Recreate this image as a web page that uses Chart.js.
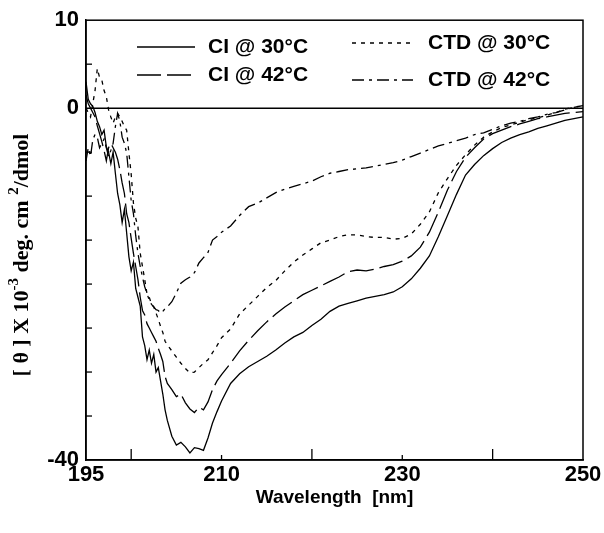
<!DOCTYPE html>
<html><head><meta charset="utf-8">
<script src="https://cdn.jsdelivr.net/npm/chart.js@4/dist/chart.umd.min.js"></script>
<style>html,body{margin:0;padding:0;background:#fff;}#wrap{width:604px;height:533px;}</style>
</head><body><div id="wrap"><canvas id="c" width="604" height="533"></canvas></div>
<script>
const wavelength = [195,195.25,195.5,195.75,196,196.25,196.5,196.75,197,197.25,197.5,197.75,198,198.25,198.5,198.75,199,199.25,199.5,199.75,200,200.25,200.5,200.75,201,201.25,201.5,201.75,202,202.25,202.5,202.75,203,203.25,203.5,203.75,204,
204.5,205,205.5,206,206.5,207,207.5,208,208.5,209,209.5,210,
211,212,213,214,215,216,217,218,219,220,221,222,223,224,225,226,227,228,229,230,231,232,233,234,235,236,237,238,239,240,241,242,243,244,245,246,247,248,249,250];

const ci30 = [3.0,1.0,0.5,0.2,-0.5,-1.5,-2.1,-3.0,-2.5,-4.4,-5.0,-6.3,-5.0,-7.4,-9.7,-11.0,-13.0,-11.5,-14.2,-16.9,-18.5,-17.5,-20.5,-21.5,-22.5,-26.0,-27.0,-28.6,-27.5,-29.0,-28.0,-30.0,-29.5,-31.0,-32.5,-34.3,-35.5,
-37.3,-38.3,-38.0,-38.5,-39.2,-38.6,-38.7,-38.9,-37.5,-35.8,-34.5,-33.3,
-31.3,-30.2,-29.4,-28.8,-28.2,-27.5,-26.7,-26.0,-25.5,-24.7,-24.0,-23.1,-22.5,-22.2,-21.9,-21.6,-21.4,-21.2,-20.9,-20.3,-19.4,-18.2,-16.8,-14.6,-12.2,-9.8,-7.6,-6.4,-5.4,-4.6,-3.9,-3.4,-3.0,-2.7,-2.3,-2.0,-1.7,-1.4,-1.2,-1.0];

const ci42 = [1.5,0.5,0.0,-0.5,-1.0,-2.0,-2.9,-3.8,-4.8,-6.0,-4.5,-4.0,-4.5,-5.0,-5.8,-7.0,-8.5,-9.7,-12.0,-13.0,-14.8,-16.5,-18.0,-19.5,-21.5,-23.0,-23.5,-24.5,-25.0,-25.5,-26.0,-26.5,-27.3,-28.0,-28.8,-30.5,-31.3,
-32.0,-32.8,-32.5,-33.5,-34.2,-34.6,-34.0,-34.3,-33.4,-32.0,-31.0,-30.3,
-29.0,-27.6,-26.4,-25.3,-24.3,-23.4,-22.6,-21.9,-21.2,-20.7,-20.2,-19.7,-19.2,-18.6,-18.4,-18.5,-18.3,-18.0,-17.8,-17.4,-16.8,-15.8,-14.1,-11.8,-9.3,-7.2,-5.6,-4.5,-3.5,-2.9,-2.5,-2.1,-1.8,-1.5,-1.2,-1.0,-0.8,-0.6,-0.5,-0.4];

const ctd30 = [0.0,-0.5,-1.0,0.5,2.0,4.5,3.5,3.2,2.0,1.3,-0.2,-1.0,-1.7,-1.0,-0.6,-1.0,-1.5,-2.1,-2.5,-5.1,-7.5,-10.8,-12.5,-13.5,-16.5,-18.0,-19.5,-21.1,-21.5,-22.3,-22.6,-23.3,-24.0,-24.8,-25.5,-26.5,-26.9,
-27.6,-28.3,-29.0,-29.6,-30.1,-30.0,-29.5,-29.0,-28.6,-27.8,-27.0,-26.1,
-25.1,-23.4,-22.4,-21.4,-20.4,-19.6,-18.5,-17.5,-16.7,-16.0,-15.3,-15.0,-14.6,-14.4,-14.4,-14.6,-14.7,-14.7,-14.9,-14.8,-14.3,-13.2,-11.8,-9.6,-8.0,-6.5,-5.3,-4.2,-3.3,-2.7,-2.2,-1.9,-1.6,-1.3,-1.1,-0.8,-0.5,-0.1,0.1,0.3];

const ctd42 = [-6.0,-4.5,-5.5,-3.6,-3.0,-3.3,-4.5,-4.0,-3.5,-4.5,-5.5,-4.8,-4.0,-2.1,-0.6,-1.5,-3.3,-4.0,-5.1,-7.8,-10.5,-12.0,-14.5,-16.5,-18.0,-19.2,-20.3,-21.1,-21.8,-22.3,-22.6,-22.9,-23.0,-23.3,-23.1,-22.8,-22.6,
-22.0,-21.0,-19.9,-19.5,-19.2,-18.7,-17.6,-17.0,-16.4,-15.0,-14.6,-14.1,
-13.4,-12.2,-11.2,-10.8,-10.2,-9.6,-9.2,-8.9,-8.6,-8.3,-7.8,-7.4,-7.2,-7.0,-6.9,-6.8,-6.6,-6.4,-6.2,-5.9,-5.5,-5.1,-4.7,-4.3,-4.0,-3.7,-3.4,-3.0,-2.8,-2.4,-2.0,-1.7,-1.5,-1.2,-1.0,-0.7,-0.5,-0.2,0.1,0.3];

const seriesLabels = ['CI @ 30°C', 'CI @ 42°C', 'CTD @ 30°C', 'CTD @ 42°C'];
const xTickLabels = [195, 210, 230, 250];
const xTickMarks = [200, 210, 220, 230, 240];
const yTickLabels = [10, 0, -40];
const yTickMarks = [5, -5, -10, -15, -20, -25, -30, -35];
const xTitle = 'Wavelength  [nm]';
const yTitleParts = [['[ θ ] X 10', false], ['-3', true], [' deg. cm ', false], ['2', true], ['/dmol', false]];

const dashes = [[], [24, 6], [4, 5], [12, 5, 3, 5]];
const seriesValues = [ci30, ci42, ctd30, ctd42];

const toPoints = arr => wavelength.map((w, i) => ({x: w, y: arr[i]}));

const decorPlugin = {
  id: 'decor',
  afterDatasetsDraw(chart) {
    const {ctx, chartArea: a, scales: {x, y}} = chart;
    ctx.save();
    ctx.strokeStyle = '#000';
    ctx.lineWidth = 1.5;
    const y0 = y.getPixelForValue(0);
    ctx.beginPath(); ctx.moveTo(a.left, y0); ctx.lineTo(a.right, y0); ctx.stroke();
    ctx.strokeRect(a.left, a.top, a.right - a.left, a.bottom - a.top);
    ctx.lineWidth = 1.3;
    xTickMarks.forEach(v => {
      const px = x.getPixelForValue(v);
      const len = xTickLabels.includes(v) ? 5 : 11;
      ctx.beginPath(); ctx.moveTo(px, a.bottom); ctx.lineTo(px, a.bottom - len); ctx.stroke();
    });
    yTickMarks.forEach(v => {
      const py = y.getPixelForValue(v);
      ctx.beginPath(); ctx.moveTo(a.left, py); ctx.lineTo(a.left + 6, py); ctx.stroke();
    });
    ctx.restore();
  },
  afterDraw(chart) {
    const {ctx} = chart;
    ctx.save();
    const pos = [
      {x1: 137, x2: 195, tx: 208, y: 47},
      {x1: 137, x2: 195, tx: 208, y: 75},
      {x1: 352, x2: 413, tx: 428, y: 43},
      {x1: 352, x2: 413, tx: 428, y: 80}
    ];
    ctx.font = 'bold 21px "Liberation Sans", Arial, sans-serif';
    ctx.fillStyle = '#000';
    ctx.textBaseline = 'middle';
    ctx.textAlign = 'left';
    pos.forEach((p, i) => {
      ctx.strokeStyle = '#000';
      ctx.lineWidth = 1.3;
      ctx.setLineDash(dashes[i]);
      ctx.beginPath(); ctx.moveTo(p.x1, p.y); ctx.lineTo(p.x2, p.y); ctx.stroke();
      ctx.setLineDash([]);
      ctx.fillText(seriesLabels[i], p.tx, p.y);
    });
    const big = 'bold 22px "Liberation Serif", "Times New Roman", serif';
    const small = 'bold 15px "Liberation Serif", "Times New Roman", serif';
    let total = 0;
    yTitleParts.forEach(([t, sup]) => { ctx.font = sup ? small : big; total += ctx.measureText(t).width; });
    ctx.translate(22, 255);
    ctx.rotate(-Math.PI / 2);
    ctx.textBaseline = 'middle';
    let cx = -total / 2;
    yTitleParts.forEach(([t, sup]) => {
      ctx.font = sup ? small : big;
      ctx.fillText(t, cx, sup ? -8 : 0);
      cx += ctx.measureText(t).width;
    });
    ctx.restore();
  }
};

new Chart(document.getElementById('c'), {
  type: 'line',
  data: {
    datasets: seriesValues.map((arr, i) => ({
      label: seriesLabels[i],
      data: toPoints(arr),
      borderColor: '#000',
      borderWidth: 1.3,
      borderDash: dashes[i],
      pointRadius: 0,
      tension: 0,
      fill: false
    }))
  },
  options: {
    responsive: false,
    animation: false,
    layout: {padding: {top: 20, right: 21, left: 0, bottom: 0}},
    plugins: {legend: {display: false}, tooltip: {enabled: false}},
    scales: {
      x: {
        type: 'linear', min: 195, max: 250,
        afterBuildTicks: s => { s.ticks = xTickLabels.map(v => ({value: v})); },
        afterFit: s => { s.height = 73; },
        grid: {display: false, drawTicks: false},
        border: {display: true, color: '#000', width: 1.5},
        ticks: {color: '#000', padding: 2, maxRotation: 0, autoSkip: false,
          font: {family: '"Liberation Sans", Arial, sans-serif', size: 22, weight: 'bold'}},
        title: {display: true, text: xTitle, color: '#000',
          font: {family: '"Liberation Sans", Arial, sans-serif', size: 19, weight: 'bold'},
          padding: {top: 0, bottom: 24}}
      },
      y: {
        type: 'linear', min: -40, max: 10,
        afterBuildTicks: s => { s.ticks = yTickLabels.map(v => ({value: v})); },
        afterFit: s => { s.width = 86; },
        grid: {display: false, drawTicks: false},
        border: {display: true, color: '#000', width: 1.5},
        ticks: {color: '#000', padding: 7,
          font: {family: '"Liberation Sans", Arial, sans-serif', size: 22, weight: 'bold'}}
      }
    }
  },
  plugins: [decorPlugin]
});
</script>
</body></html>
